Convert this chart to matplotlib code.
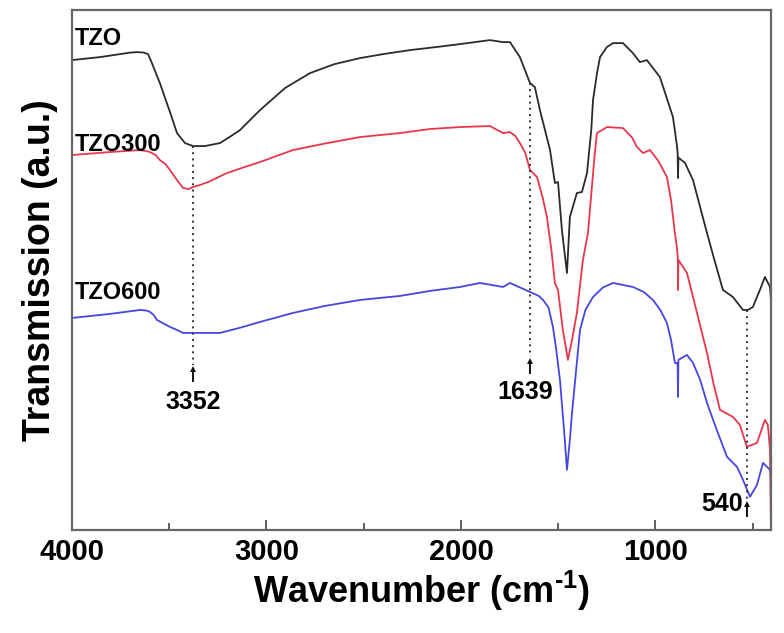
import numpy as np
import matplotlib
matplotlib.use("Agg")
import matplotlib.pyplot as plt

plt.rcParams['font.family'] = ['Liberation Sans', 'DejaVu Sans']
plt.rcParams['font.weight'] = 'bold'
plt.rcParams['mathtext.fontset'] = 'custom'
plt.rcParams['mathtext.bf'] = 'Liberation Sans:bold'
plt.rcParams['mathtext.rm'] = 'Liberation Sans:bold'
plt.rcParams['mathtext.default'] = 'bf'

# TZO (black)
wn_tzo = [4000, 3856, 3700, 3666, 3630, 3609, 3590, 3548, 3496, 3460, 3419, 3378,
          3316, 3239, 3190, 3136, 3033, 2960, 2905, 2776, 2650, 2519, 2400, 2262,
          2130, 2005, 1851, 1784, 1748, 1697, 1645, 1620, 1594, 1542, 1517, 1501,
          1481, 1455, 1440, 1404, 1378, 1352, 1330, 1321, 1300, 1285, 1250, 1218,
          1167, 1116, 1080, 1044, 977, 910, 890, 886, 884, 882, 848, 807, 735, 694,
          653, 602, 550, 524, 499, 463, 437, 411, 406]
t_tzo = [94.0, 94.6, 95.5, 95.6, 95.5, 95.2, 93.5, 89.4, 83.6, 79.4, 77.4, 76.8,
         76.8, 77.4, 78.6, 80.0, 84.0, 86.5, 88.4, 91.4, 93.2, 94.4, 95.2, 96.0,
         96.6, 97.2, 98.0, 97.6, 97.6, 94.6, 89.4, 88.6, 84.0, 76.0, 69.4, 69.6,
         60.0, 51.4, 62.6, 67.4, 67.6, 71.4, 80.0, 86.0, 91.5, 94.6, 96.6, 97.4,
         97.4, 95.4, 93.6, 94.0, 90.6, 82.6, 77.0, 75.4, 70.4, 74.5, 73.4, 70.0,
         59.4, 53.6, 48.0, 46.6, 44.0, 44.0, 44.6, 48.0, 50.6, 48.6, 46.0]

# TZO300 (red)
wn_300 = [4000, 3805, 3650, 3620, 3599, 3570, 3548, 3520, 3496, 3460, 3429, 3400,
          3378, 3342, 3300, 3203, 3120, 3033, 2864, 2700, 2519, 2314, 2160, 2005,
          1851, 1784, 1748, 1720, 1697, 1670, 1645, 1609, 1580, 1558, 1535, 1517,
          1501, 1476, 1450, 1429, 1404, 1373, 1347, 1315, 1301, 1249, 1167, 1120,
          1095, 1064, 1028, 985, 941, 920, 900, 890, 885, 884, 882, 838, 790, 735,
          700, 668, 602, 566, 530, 478, 437, 422, 411, 406]
t_300 = [75.0, 75.6, 76.0, 75.8, 75.6, 75.0, 74.0, 73.2, 72.0, 70.0, 68.4, 68.2,
         68.6, 69.0, 69.6, 71.4, 72.5, 73.6, 76.0, 77.3, 78.6, 79.4, 80.2, 80.6,
         80.8, 79.4, 79.6, 78.8, 77.4, 75.5, 72.0, 70.6, 66.5, 62.6, 56.0, 49.4,
         48.0, 40.0, 34.0, 38.0, 43.4, 54.0, 59.4, 74.0, 79.4, 80.6, 80.4, 78.5,
         76.6, 75.4, 76.0, 73.8, 70.6, 66.0, 59.4, 56.6, 54.4, 48.0, 54.0, 51.4,
         44.0, 35.4, 29.0, 24.0, 22.6, 21.0, 16.6, 17.4, 22.0, 21.0, 16.0, 0.0]

# TZO600 (blue)
wn_600 = [4000, 3805, 3650, 3620, 3599, 3580, 3563, 3530, 3496, 3460, 3429, 3239,
          3130, 3033, 2864, 2700, 2519, 2314, 2160, 2005, 1902, 1784, 1748, 1645,
          1600, 1578, 1550, 1527, 1510, 1491, 1470, 1455, 1440, 1429, 1388, 1360,
          1321, 1270, 1218, 1116, 1060, 1013, 975, 941, 920, 900, 890, 886, 884,
          882, 838, 807, 770, 735, 680, 632, 581, 550, 514, 478, 447, 411, 406]
t_600 = [42.4, 43.2, 44.0, 43.9, 43.6, 43.0, 42.0, 41.3, 40.6, 40.0, 39.4, 39.4,
         40.5, 41.6, 43.4, 44.8, 46.0, 46.8, 47.8, 48.6, 49.4, 48.6, 49.4, 47.6,
         46.8, 46.0, 44.5, 40.6, 36.0, 30.0, 20.0, 12.0, 18.0, 23.4, 40.0, 44.0,
         46.6, 48.5, 49.4, 48.6, 47.6, 46.0, 44.0, 41.4, 38.0, 33.4, 33.4, 33.0,
         26.6, 34.0, 35.0, 33.4, 30.0, 25.4, 19.5, 14.6, 12.6, 10.0, 6.6, 9.0,
         13.4, 12.0, 11.0]

# marked bands
peaks = [3378, 1645, 530]
peak_tops = [76.8, 89.4, 44.0]
peak_bottoms = [33.0, 34.6, 6.0]
peak_labels = ['3352', '1639', '540']

fig = plt.figure(figsize=(7.84, 6.33), dpi=100)
ax = fig.add_axes([0.0918, 0.163, 0.8916, 0.821])

ax.plot(wn_tzo, t_tzo, color='#2b2b2b', lw=1.3)
ax.plot(wn_300, t_300, color='#e8364e', lw=1.3)
ax.plot(wn_600, t_600, color='#4646e0', lw=1.3)

for x, top, bot in zip(peaks, peak_tops, peak_bottoms):
    ax.plot([x, x], [top, bot], color='#333333', ls=(0, (1, 2.2)), lw=1.4)
    ax.plot([x], [bot - 0.8], marker='^', color='#111111', ms=5, mew=0)
    ax.plot([x, x], [bot - 1.2, bot - 3.2], color='#111111', lw=1.4)

ax.text(peaks[0], 25.6, peak_labels[0], ha='center', va='center', fontsize=18)
ax.text(1671, 27.6, peak_labels[1], ha='center', va='center', fontsize=18)
ax.text(550, 5.2, peak_labels[2], ha='right', va='center', fontsize=18)

ax.text(3988, 98.4, 'TZO', ha='left', va='center', fontsize=17)
ax.text(3988, 77.2, 'TZO300', ha='left', va='center', fontsize=17)
ax.text(3988, 47.4, 'TZO600', ha='left', va='center', fontsize=17)

ax.set_xlim(4000, 406)
ax.set_ylim(0, 104)
ax.set_xticks([4000, 3000, 2000, 1000])
ax.set_xticks([3500, 2500, 1500, 500], minor=True)
ax.set_yticks([])
ax.tick_params(axis='x', which='major', direction='in', length=7, width=1.3,
               labelsize=21, pad=6, color='#555555')
ax.tick_params(axis='x', which='minor', direction='in', length=5, width=1.3,
               color='#555555')
for lbl in ax.get_xticklabels():
    lbl.set_fontweight('bold')
for s in ax.spines.values():
    s.set_color('#666666')
    s.set_linewidth(1.6)

ax.set_xlabel(r'Wavenumber (cm$^{\text{-1}}$)', fontsize=26, fontweight='bold', labelpad=2)
ax.set_ylabel('Transmission (a.u.)', fontsize=27, fontweight='bold', labelpad=10)

fig.savefig('out.png', dpi=100)
